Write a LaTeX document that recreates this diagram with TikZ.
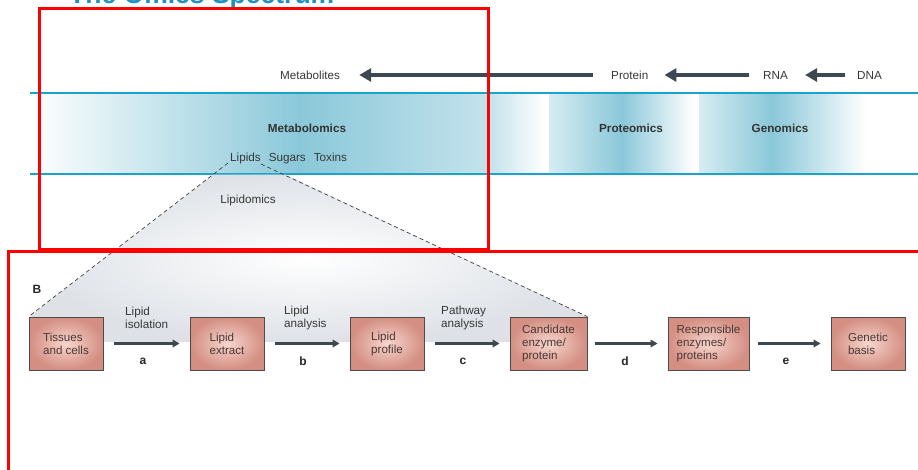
\documentclass[tikz,border=0pt]{standalone}
\usepackage{fontspec}
\setmainfont{Liberation Sans}
\usetikzlibrary{arrows.meta}
\definecolor{titleblue}{RGB}{30,145,190}
\definecolor{bandline}{RGB}{27,163,204}
\definecolor{bandpeak}{RGB}{138,200,217}
\definecolor{bandlight}{RGB}{196,227,236}
\definecolor{bandstart}{RGB}{214,236,242}
\definecolor{arrowgray}{RGB}{60,72,82}
\definecolor{txtgray}{RGB}{55,55,55}
\definecolor{boxout}{RGB}{212,142,130}
\definecolor{boxin}{RGB}{246,214,206}
\definecolor{boxtxt}{RGB}{75,55,53}
\definecolor{trigray}{RGB}{222,226,231}
\begin{document}
\begin{tikzpicture}[x=1pt,y=-1pt,
  lbl/.style={font=\fontsize{11.7}{13}\selectfont, text=txtgray, inner sep=0pt},
  bandlbl/.style={font=\fontsize{11.7}{13}\selectfont\bfseries, text=black!80, inner sep=0pt},
  bigarrow/.style={draw=arrowgray, line width=4.5pt, -{Triangle[length=12pt,width=13pt]}},
  smallarrow/.style={draw=arrowgray, line width=2.6pt, -{Triangle[length=7pt,width=7.5pt]}},
  stepbox/.style={draw=black!70, line width=0.8pt, inner color=boxin, outer color=boxout,
    minimum height=53pt, text=boxtxt, align=left, font=\fontsize{11.6}{13}\selectfont, inner sep=0pt},
  letter/.style={font=\fontsize{12}{14}\selectfont\bfseries, text=black!85, inner sep=0pt},
  redbox/.style={draw=red, line width=3pt},
  dashline/.style={draw=black!75, line width=0.7pt, dash pattern=on 4pt off 3pt}
  ]
\useasboundingbox (0,0) rectangle (918,469);
\clip (0,0) rectangle (918,469);

% title (cut off at top)
\node[anchor=base west, font=\fontsize{26.5}{30}\selectfont\bfseries, text=titleblue, inner sep=0pt] (title) at (69,3.5) {The Omics Spectrum};

% band shading
\shade[left color=white, right color=bandpeak] (30,93) rectangle (300,172.5);
\shade[left color=bandpeak, right color=bandlight] (300,93) rectangle (490,172.5);
\shade[left color=bandlight, right color=white] (490,93) rectangle (545,172.5);
\shade[left color=bandstart, right color=bandpeak] (549,93) rectangle (622,172.5);
\shade[left color=bandpeak, right color=white] (622,93) rectangle (694,172.5);
\shade[left color=bandstart, right color=bandpeak] (699,93) rectangle (772,172.5);
\shade[left color=bandpeak, right color=white] (772,93) rectangle (866,172.5);
\draw[bandline, line width=2pt] (30,92.5) -- (918,92.5);
\draw[bandline, line width=2pt] (30,173.5) -- (918,173.5);

% lipidomics funnel
\shade[inner color=white, outer color=trigray] (213.8,174.5) -- (285.3,174.5) -- (586,316) -- (586,342) -- (30,342) -- (30,316) -- cycle;

% top row
\node[lbl, anchor=west] (metab) at (280,75) {Metabolites};
\node[lbl, anchor=west] (protein) at (611,75) {Protein};
\node[lbl, anchor=west] (rna) at (763,75) {RNA};
\node[lbl, anchor=west] (dna) at (857,75) {DNA};
\draw[bigarrow] ([xshift=-18pt]protein.west) -- ([xshift=19pt]metab.east);
\draw[bigarrow] ([xshift=-14pt]rna.west) -- ([xshift=16pt]protein.east);
\draw[bigarrow] ([xshift=-12pt]dna.west) -- ([xshift=17pt]rna.east);

% band labels
\node[bandlbl] (metabolomics) at (307,128) {Metabolomics};
\node[bandlbl] (proteomics) at (631,128) {Proteomics};
\node[bandlbl] (genomics) at (780,128) {Genomics};
\node[lbl, anchor=west] (lst) at (230,158) {Lipids\hspace{8pt}Sugars\hspace{8pt}Toxins};
\node[lbl] (lipidomics) at (248,200) {Lipidomics};
\coordinate (apexL) at (228,163);
\coordinate (apexR) at (261,164);

% B
\node[letter] (B) at (37,289) {B};

% boxes
\node[stepbox, minimum width=74pt] (tissue) at (66,343.5) {Tissues\\and cells};
\node[stepbox, minimum width=74pt] (extract) at (227,343.5) {Lipid\\extract};
\node[stepbox, minimum width=74pt] (profile) at (387,343.5) {Lipid\\profile};
\node[stepbox, minimum width=77pt] (cand) at (548.5,343.5) {Candidate\\enzyme/\\protein};
\node[stepbox, minimum width=81pt] (resp) at (708.5,343.5) {Responsible\\enzymes/\\proteins};
\node[stepbox, minimum width=74pt] (genetic) at (868,343.5) {Genetic\\basis};

% dashed funnel lines
\draw[dashline] (apexL) -- (tissue.north west);
\draw[dashline] (apexR) -- (cand.north east);

% process arrows
\draw[smallarrow] ([xshift=11pt]tissue.east) -- ([xshift=-10pt]extract.west);
\draw[smallarrow] ([xshift=11pt]extract.east) -- ([xshift=-10pt]profile.west);
\draw[smallarrow] ([xshift=11pt]profile.east) -- ([xshift=-10pt]cand.west);
\draw[smallarrow] ([xshift=8pt]cand.east) -- ([xshift=-10pt]resp.west);
\draw[smallarrow] ([xshift=9pt]resp.east) -- ([xshift=-10pt]genetic.west);

\node[lbl, align=left, anchor=west] (l1) at (125,318) {Lipid\\isolation};
\node[lbl, align=left, anchor=west] (l2) at (284,318) {Lipid\\analysis};
\node[lbl, align=left, anchor=west] (l3) at (441,318) {Pathway\\analysis};

\node[letter] (la) at (143,361.5) {a};
\node[letter] (lb) at (303,361.5) {b};
\node[letter] (lc) at (463,361.5) {c};
\node[letter] (ld) at (625,361.5) {d};
\node[letter] (le) at (786,361.5) {e};

% red frames
\draw[redbox] (39.5,8.5) rectangle (488,249.5);
\draw[redbox] (8.5,251) rectangle (935,490);
\end{tikzpicture}
\end{document}
